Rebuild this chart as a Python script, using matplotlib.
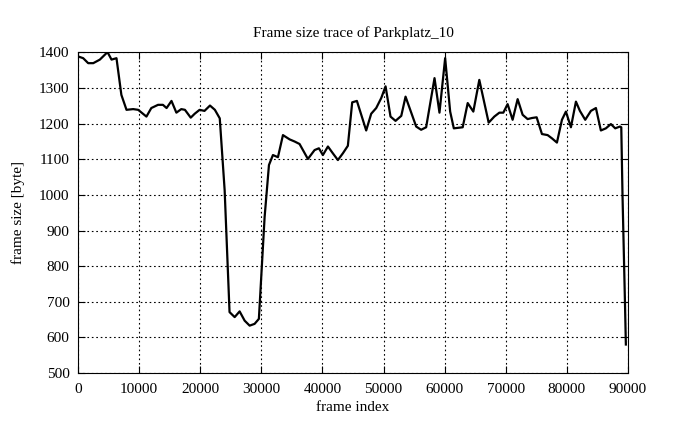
import numpy as np
import matplotlib.pyplot as plt

# frame index and frame size
frames = [0, 850, 1670, 2500, 3580, 4830, 5490, 6300, 7100, 7940, 9030, 9850,
          11200, 12000, 13100, 13900, 14500, 15300, 16100, 16900, 17500, 18450,
          19100, 19900, 20700, 21600, 22400, 23200, 24000, 24800, 25640, 26450,
          27270, 28090, 28900, 29600, 30540, 31250, 31900, 32720, 33540, 34630,
          35450, 36260, 37620, 38715, 39420, 40077, 40900, 41700, 42530, 43350,
          44160, 44870, 45640, 47160, 47980, 48800, 49620, 50330, 51140, 51960,
          52900, 53600, 55340, 56150, 56970, 58340, 59150, 60080, 60900, 61500,
          62950, 63770, 64690, 65670, 67200, 68125, 68950, 69600, 70300, 71120,
          71940, 72760, 73575, 74280, 75050, 75920, 76850, 77550, 78370, 79190,
          79840, 80660, 81480, 82130, 83000, 83930, 84750, 85560, 86380, 87200,
          87910, 88670, 88900, 89100, 89300, 89500, 89650]
sizes = [1389, 1384, 1370, 1370, 1380, 1401, 1380, 1384, 1281, 1239, 1241, 1239,
         1220, 1244, 1253, 1253, 1244, 1264, 1231, 1241, 1239, 1217,
         1228, 1239, 1236, 1251, 1239, 1215, 1013, 671, 657, 673,
         647, 633, 638, 652, 938, 1084, 1112, 1106, 1168, 1156,
         1150, 1143, 1101, 1126, 1131, 1112, 1136, 1117, 1098, 1117,
         1138, 1260, 1264, 1181, 1228, 1244, 1272, 1305, 1220, 1208,
         1222, 1276, 1192, 1183, 1190, 1328, 1231, 1384, 1234, 1187,
         1190, 1258, 1234, 1323, 1203, 1220, 1231, 1231, 1255, 1211,
         1269, 1225, 1213, 1216, 1218, 1171, 1168, 1159, 1147, 1211,
         1234, 1190, 1262, 1236, 1211, 1236, 1244, 1181, 1187, 1199,
         1187, 1192, 1190, 1000, 850, 700, 580]

xticks = np.arange(0, 90001, 10000)
yticks = np.arange(500, 1401, 100)

plt.rcParams['font.family'] = ['Liberation Serif', 'DejaVu Serif']
plt.rcParams['font.size'] = 11

fig = plt.figure(figsize=(6.95, 4.26), dpi=100)
ax = fig.add_axes([0.1122, 0.1244, 0.7914, 0.7524])

ax.plot(frames, sizes, color='black', linewidth=1.6)

ax.set_xlim(0, 90000)
ax.set_ylim(500, 1400)
ax.set_xticks(xticks)
ax.set_yticks(yticks)
ax.grid(True, color='black', linestyle=(0, (1.5, 2.5)), linewidth=0.8)
ax.tick_params(direction='in', top=True, right=True, length=5, width=0.8)
ax.tick_params(axis='x', pad=7)
ax.tick_params(axis='y', pad=6)
for s in ax.spines.values():
    s.set_linewidth(0.8)

ax.set_title('Frame size trace of Parkplatz_10', fontsize=11, pad=11)
ax.set_xlabel('frame index', labelpad=4)
ax.set_ylabel('frame size [byte]', labelpad=10)

fig.savefig('out.png', dpi=100)
